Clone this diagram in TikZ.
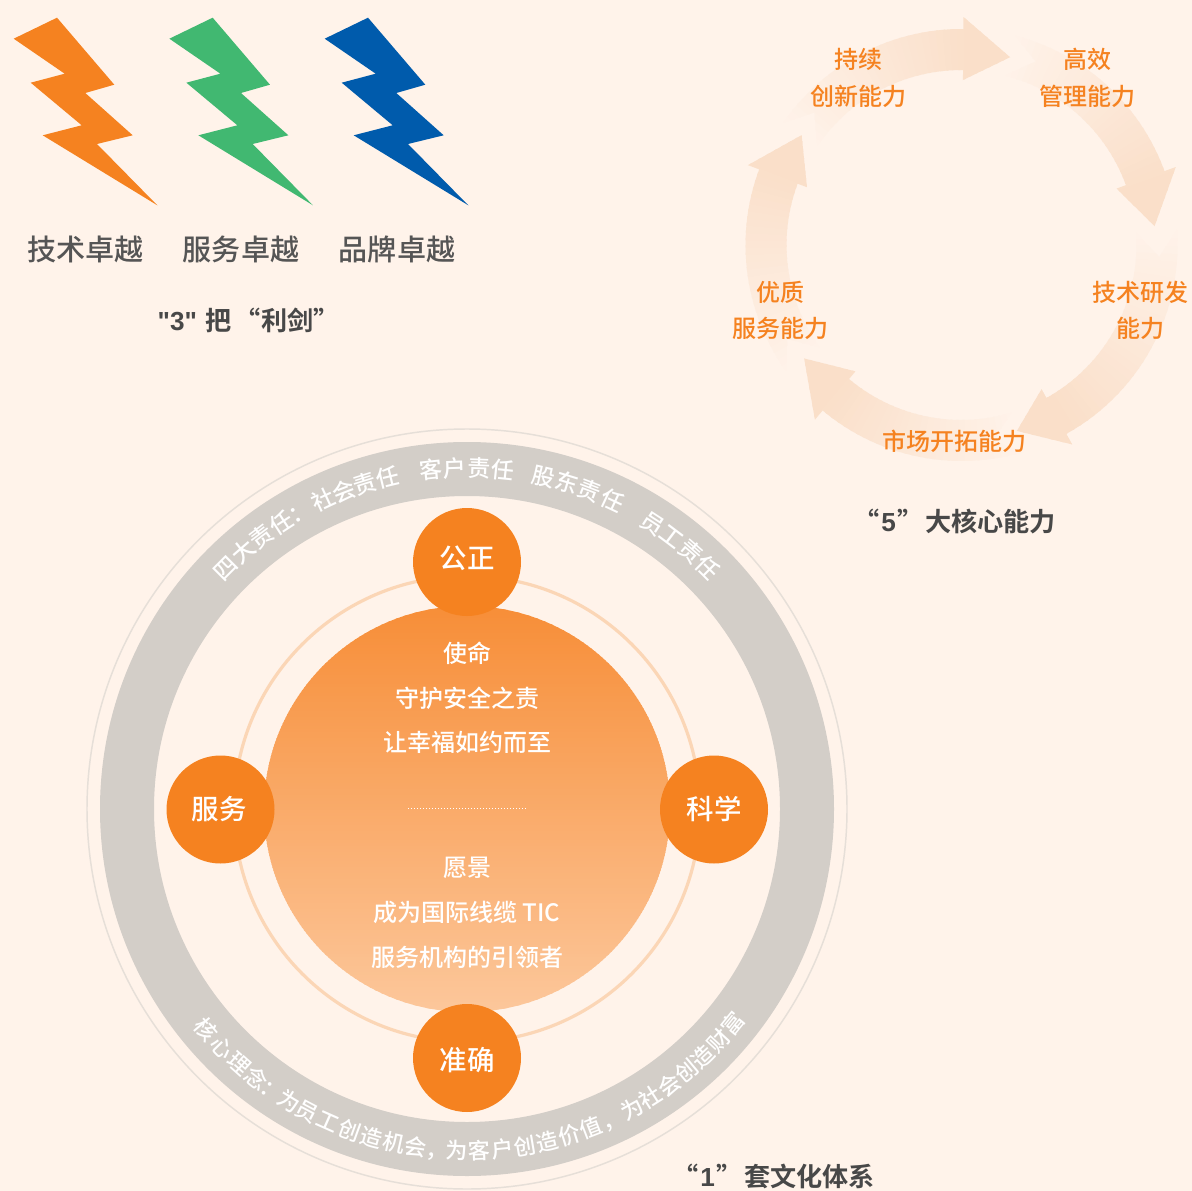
\documentclass[tikz,border=0pt]{standalone}
\usepackage{fontspec}
\setmainfont{Noto Sans CJK SC Medium}
\newfontfamily\ttlf{Noto Sans CJK SC Bold}
\newfontfamily\latb{Liberation Sans Bold}
\definecolor{bgc}{HTML}{FFF3EA}
\definecolor{orgc}{HTML}{F58220}
\definecolor{grnc}{HTML}{41B871}
\definecolor{bluc}{HTML}{005BAC}
\definecolor{ringc}{HTML}{D3CEC8}
\definecolor{thinc}{HTML}{E6DFD8}
\definecolor{softc}{HTML}{FBD6B6}
\definecolor{headc}{HTML}{FADFC9}
\definecolor{txtc}{HTML}{555555}
\definecolor{gtop}{HTML}{F78E38}
\definecolor{gbot}{HTML}{FCC79B}
\newcommand{\fs}[1]{\fontsize{#1}{#1}\selectfont}
\tikzset{
  every node/.style={inner sep=0pt,outer sep=0pt,align=center},
  px/.style={x=0.75pt,y=-0.75pt},
  bolt/.style={draw=none},
  toptxt/.style={font=\fs{17.2},white,text height=15.1pt,text depth=2.1pt},
  bottxt/.style={font=\fs{16.6},white,text height=14.6pt,text depth=2pt},
  cyc/.style={font=\fs{18},orgc,text height=15.8pt,text depth=2.2pt},
  capt/.style={font=\fs{21.8},txtc,text height=19.2pt,text depth=2.6pt},
  ttl/.style={font=\fs{19.6}\ttlf,txtc!85!black,text height=17.2pt,text depth=2.3pt,anchor=east},
  mid/.style={font=\fs{18},white,text height=15.8pt,text depth=2.2pt},
  disc/.style={fill=orgc,draw=none},
  disctxt/.style={font=\fs{20.6},white,text height=18.1pt,text depth=2.5pt},
}
\newcommand{\boltat}[2]{%
  \fill[bolt,fill=#2,shift={(#1,0)}] (57,17.7) -- (114.3,84.7) -- (85.3,93) -- (132.7,135.3) -- (97,144) -- (157.3,205.3) -- (42.7,135.3) -- (81.7,125.3) -- (30.7,82.7) -- (64.7,73.7) -- (13.7,38.7) -- cycle;}
% arrow: #1 tail angle, #2 head base, #3 tip
\newcommand{\cycarrow}[3]{%
  \begin{scope}
    \clip plot[domain=#1:#2,samples=30] ({961.5+216*sin(\x)},{245-216*cos(\x)})
      -- ({961.5+228*sin(#2)},{245-228*cos(#2)})
      -- ({961.5+194*sin(#3)},{245-194*cos(#3)})
      -- ({961.5+165*sin(#2)},{245-165*cos(#2)})
      -- plot[domain=#2:#1,samples=30] ({961.5+175*sin(\x)},{245-175*cos(\x)})
      -- ({961.5+198*sin(#1+7.5)},{245-198*cos(#1+7.5)}) -- cycle;
    \foreach \k in {0,...,36}{
      \pgfmathsetmacro{\aa}{#1+\k*(#3-#1)/36}
      \pgfmathsetmacro{\bb}{\aa+(#3-#1)/36+0.6}
      \pgfmathsetmacro{\pp}{min(100,4+\k*96/29)}
      \fill[headc!\pp!bgc] (961.5,245) -- ({961.5+260*sin(\aa)},{245-260*cos(\aa)}) -- ({961.5+260*sin(\bb)},{245-260*cos(\bb)}) -- cycle;
    }
  \end{scope}}
\begin{document}
\begin{tikzpicture}[px]
\fill[bgc] (0,0) rectangle (1192,1191);
\useasboundingbox (0,0) rectangle (1192,1191);
% bolts
\boltat{0}{orgc}
\boltat{155.67}{grnc}
\boltat{311}{bluc}
\node[capt] (c1) at (85.5,249) {技术卓越};
\node[capt] (c2) at (241,249) {服务卓越};
\node[capt] (c3) at (397,249) {品牌卓越};
\node[ttl] (t3) at (339.5,321) {{\latb"3"}\kern6.5pt 把\kern2.4pt“利剑”};
% cycle
\cycarrow{-55.5}{0.5}{14.5}
\cycarrow{14.5}{70}{84.4}
\cycarrow{86}{151}{163.4}
\cycarrow{163.4}{220}{234.2}
\cycarrow{234.2}{290.5}{304.5}
\node[cyc] (a1) at (858.5,59) {持续};
\node[cyc] (a2) at (858.5,96) {创新能力};
\node[cyc] (b1) at (1087,59) {高效};
\node[cyc] (b2) at (1087,96) {管理能力};
\node[cyc] (d1) at (1140,292) {技术研发};
\node[cyc] (d2) at (1140,328) {能力};
\node[cyc] (e1) at (954.5,441) {市场开拓能力};
\node[cyc] (f1) at (780,292) {优质};
\node[cyc] (f2) at (780,328) {服务能力};
\node[ttl] (t5) at (1056,522) {“\kern1pt{\latb 5}\kern1pt”\kern1.5pt 大核心能力};
% rings
\draw[thinc,line width=1.1pt] (467,809) circle[radius=380];
\fill[ringc,even odd rule] (467,809) circle[radius=367] (467,809) circle[radius=313];
\draw[softc,line width=2.4pt] (467,809) circle[radius=233];
\begin{scope}
  \clip (467,809) circle[radius=203];
  \foreach \k in {0,...,135}{
    \pgfmathsetmacro{\pp}{100-\k*100/135}
    \fill[gtop!\pp!gbot] (260,{606+3*\k}) rectangle (674,{606+3*\k+3.6});
  }
\end{scope}
% discs
\fill[disc] (467,562) circle[radius=54];
\fill[disc] (220.5,809.5) circle[radius=54];
\fill[disc] (714,809.5) circle[radius=54];
\fill[disc] (467,1058) circle[radius=54];
\node[disctxt] (p1) at (467,558) {公正};
\node[disctxt] (p2) at (219,809) {服务};
\node[disctxt] (p3) at (714,809) {科学};
\node[disctxt] (p4) at (467,1060) {准确};
% centre text
\node[mid] (m1) at (467,653) {使命};
\node[mid] (m2) at (467,698) {守护安全之责};
\node[mid] (m3) at (467,742) {让幸福如约而至};
\draw[white,line width=0.75pt,dash pattern=on 1pt off 1.25pt] (408,808) -- (526,808);
\node[mid] (m4) at (467,867) {愿景};
\node[mid] (m5) at (467,912) {成为国际线缆 TIC};
\node[mid] (m6) at (467,957) {服务机构的引领者};
% ring text
\foreach \a/\c [count=\i] in {-45/四,-41/大,-37/责,-33/任,-29.3/：,-25/社,-21.2/会,-17.4/责,-13.4/任,-6/客,-2/户,2/责,6/任,13/股,17/东,21/责,25.2/任,33/员,37/工,41/责,45/任}{
  \node[toptxt,rotate=-\a] (tp\i) at ({467+341*sin(\a)},{809-341*cos(\a)}) {\c};
}
\foreach \a/\c [count=\i] in {-49.8/核,-45.8/心,-41.8/理,-38/念,-34.6/：,-31.4/为,-27.8/员,-24/工,-20/创,-16.2/造,-12.3/机,-8.6/会,-5/，,-1.7/为,2.1/客,5.9/户,9.7/创,13.5/造,17.4/价,21.2/值,25/，,28.9/为,32.5/社,36.2/会,39.9/创,43.5/造,47.3/财,51.1/富}{
  \node[bottxt,rotate=\a] (bt\i) at ({467+342*sin(\a)},{809+342*cos(\a)}) {\c};
}
\node[ttl] (t1) at (875,1177) {“\kern1pt{\latb 1}\kern1pt”\kern1.5pt 套文化体系};
\end{tikzpicture}
\end{document}
